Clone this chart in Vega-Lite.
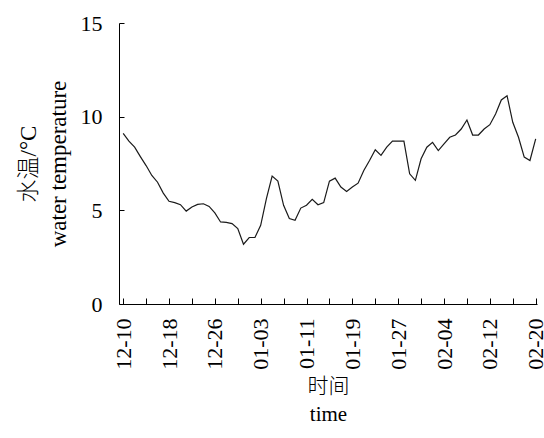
{
  "$schema": "https://vega.github.io/schema/vega-lite/v6.json",
  "description": "Daily water temperature, 12-10 to 02-20.",
  "autosize": "none",
  "width": 418,
  "height": 281,
  "padding": {"left": 119, "top": 23, "right": 7, "bottom": 134},
  "background": "white",
  "config": {
    "view": {"stroke": null},
    "axis": {
      "grid": false,
      "domainColor": "black",
      "tickColor": "black",
      "labelColor": "black",
      "titleColor": "black",
      "labelFont": "Liberation Serif",
      "titleFont": "Liberation Serif, Noto Sans CJK SC",
      "titleFontWeight": 300
    }
  },
  "data": {
    "values": [
      {"date": "2018-12-10", "temp": 9.11},
      {"date": "2018-12-11", "temp": 8.69},
      {"date": "2018-12-12", "temp": 8.37},
      {"date": "2018-12-13", "temp": 7.87},
      {"date": "2018-12-14", "temp": 7.39},
      {"date": "2018-12-15", "temp": 6.86},
      {"date": "2018-12-16", "temp": 6.5},
      {"date": "2018-12-17", "temp": 5.92},
      {"date": "2018-12-18", "temp": 5.48},
      {"date": "2018-12-19", "temp": 5.41},
      {"date": "2018-12-20", "temp": 5.3},
      {"date": "2018-12-21", "temp": 4.96},
      {"date": "2018-12-22", "temp": 5.18},
      {"date": "2018-12-23", "temp": 5.32},
      {"date": "2018-12-24", "temp": 5.35},
      {"date": "2018-12-25", "temp": 5.21},
      {"date": "2018-12-26", "temp": 4.86},
      {"date": "2018-12-27", "temp": 4.38},
      {"date": "2018-12-28", "temp": 4.36},
      {"date": "2018-12-29", "temp": 4.29},
      {"date": "2018-12-30", "temp": 4.03},
      {"date": "2018-12-31", "temp": 3.19},
      {"date": "2019-01-01", "temp": 3.55},
      {"date": "2019-01-02", "temp": 3.55},
      {"date": "2019-01-03", "temp": 4.2},
      {"date": "2019-01-04", "temp": 5.62},
      {"date": "2019-01-05", "temp": 6.83},
      {"date": "2019-01-06", "temp": 6.56},
      {"date": "2019-01-07", "temp": 5.27},
      {"date": "2019-01-08", "temp": 4.56},
      {"date": "2019-01-09", "temp": 4.47},
      {"date": "2019-01-10", "temp": 5.12},
      {"date": "2019-01-11", "temp": 5.27},
      {"date": "2019-01-12", "temp": 5.59},
      {"date": "2019-01-13", "temp": 5.3},
      {"date": "2019-01-14", "temp": 5.41},
      {"date": "2019-01-15", "temp": 6.56},
      {"date": "2019-01-16", "temp": 6.72},
      {"date": "2019-01-17", "temp": 6.24},
      {"date": "2019-01-18", "temp": 6.01},
      {"date": "2019-01-19", "temp": 6.24},
      {"date": "2019-01-20", "temp": 6.45},
      {"date": "2019-01-21", "temp": 7.13},
      {"date": "2019-01-22", "temp": 7.66},
      {"date": "2019-01-23", "temp": 8.23},
      {"date": "2019-01-24", "temp": 7.93},
      {"date": "2019-01-25", "temp": 8.37},
      {"date": "2019-01-26", "temp": 8.69},
      {"date": "2019-01-27", "temp": 8.69},
      {"date": "2019-01-28", "temp": 8.69},
      {"date": "2019-01-29", "temp": 6.95},
      {"date": "2019-01-30", "temp": 6.6},
      {"date": "2019-01-31", "temp": 7.75},
      {"date": "2019-02-01", "temp": 8.37},
      {"date": "2019-02-02", "temp": 8.63},
      {"date": "2019-02-03", "temp": 8.19},
      {"date": "2019-02-04", "temp": 8.55},
      {"date": "2019-02-05", "temp": 8.9},
      {"date": "2019-02-06", "temp": 9.02},
      {"date": "2019-02-07", "temp": 9.34},
      {"date": "2019-02-08", "temp": 9.82},
      {"date": "2019-02-09", "temp": 9.02},
      {"date": "2019-02-10", "temp": 9.02},
      {"date": "2019-02-11", "temp": 9.34},
      {"date": "2019-02-12", "temp": 9.57},
      {"date": "2019-02-13", "temp": 10.14},
      {"date": "2019-02-14", "temp": 10.89},
      {"date": "2019-02-15", "temp": 11.12},
      {"date": "2019-02-16", "temp": 9.7},
      {"date": "2019-02-17", "temp": 8.9},
      {"date": "2019-02-18", "temp": 7.84},
      {"date": "2019-02-19", "temp": 7.66},
      {"date": "2019-02-20", "temp": 8.81}
    ]
  },
  "layer": [
    {
      "mark": {"type": "line", "color": "#1a1a1a", "strokeWidth": 1.2},
      "encoding": {
        "x": {
          "field": "date",
          "type": "temporal",
          "scale": {
            "type": "utc",
            "domain": [
              {"year": 2018, "month": 12, "date": 9, "hours": 6, "minutes": 30, "utc": true},
              {"year": 2019, "month": 2, "date": 20, "hours": 5, "minutes": 30, "utc": true}
            ]
          },
          "axis": {
            "title": ["时间", "time"],
            "titleFontSize": 21,
            "titleLineHeight": 28,
            "titlePadding": 6,
            "labelFontSize": 22,
            "labelAngle": 270,
            "labelPadding": 14,
            "ticks": false,
            "formatType": "utc",
            "format": "%m-%d",
            "labelExpr": "round((datum.value - utc(2018, 11, 10)) / 86400000) % 8 == 0 ? utcFormat(datum.value, '%m-%d') : ''",
            "values": [
              {"year": 2018, "month": 12, "date": 10, "utc": true},
              {"year": 2018, "month": 12, "date": 18, "utc": true},
              {"year": 2018, "month": 12, "date": 26, "utc": true},
              {"year": 2019, "month": 1, "date": 3, "utc": true},
              {"year": 2019, "month": 1, "date": 11, "utc": true},
              {"year": 2019, "month": 1, "date": 19, "utc": true},
              {"year": 2019, "month": 1, "date": 27, "utc": true},
              {"year": 2019, "month": 2, "date": 4, "utc": true},
              {"year": 2019, "month": 2, "date": 12, "utc": true},
              {"year": 2019, "month": 2, "date": 20, "utc": true}
            ]
          }
        },
        "y": {
          "field": "temp",
          "type": "quantitative",
          "scale": {"domain": [0, 15], "nice": false, "zero": true},
          "axis": {
            "values": [0, 5, 10, 15],
            "title": ["水温/°C", "water temperature"],
            "titleFontSize": 23,
            "titleLineHeight": 30,
            "titlePadding": 10,
            "labelFontSize": 22,
            "labelPadding": 17,
            "ticks": false
          }
        }
      }
    },
    {
      "mark": {"type": "line", "strokeOpacity": 0},
      "encoding": {
        "x": {
          "field": "date",
          "type": "temporal",
          "axis": {
            "orient": "top",
            "offset": -281,
            "domain": false,
            "labels": false,
            "title": null,
            "ticks": true,
            "tickSize": 6,
            "values": [
              {"year": 2018, "month": 12, "date": 10, "utc": true},
              {"year": 2018, "month": 12, "date": 14, "utc": true},
              {"year": 2018, "month": 12, "date": 18, "utc": true},
              {"year": 2018, "month": 12, "date": 22, "utc": true},
              {"year": 2018, "month": 12, "date": 26, "utc": true},
              {"year": 2018, "month": 12, "date": 30, "utc": true},
              {"year": 2019, "month": 1, "date": 3, "utc": true},
              {"year": 2019, "month": 1, "date": 7, "utc": true},
              {"year": 2019, "month": 1, "date": 11, "utc": true},
              {"year": 2019, "month": 1, "date": 15, "utc": true},
              {"year": 2019, "month": 1, "date": 19, "utc": true},
              {"year": 2019, "month": 1, "date": 23, "utc": true},
              {"year": 2019, "month": 1, "date": 27, "utc": true},
              {"year": 2019, "month": 1, "date": 31, "utc": true},
              {"year": 2019, "month": 2, "date": 4, "utc": true},
              {"year": 2019, "month": 2, "date": 8, "utc": true},
              {"year": 2019, "month": 2, "date": 12, "utc": true},
              {"year": 2019, "month": 2, "date": 16, "utc": true},
              {"year": 2019, "month": 2, "date": 20, "utc": true}
            ]
          }
        },
        "y": {
          "field": "temp",
          "type": "quantitative",
          "axis": {
            "orient": "right",
            "offset": -418,
            "domain": false,
            "labels": false,
            "title": null,
            "ticks": true,
            "tickSize": 5,
            "values": [0, 5, 10, 15]
          }
        }
      }
    }
  ],
  "resolve": {"axis": {"x": "independent", "y": "independent"}}
}
